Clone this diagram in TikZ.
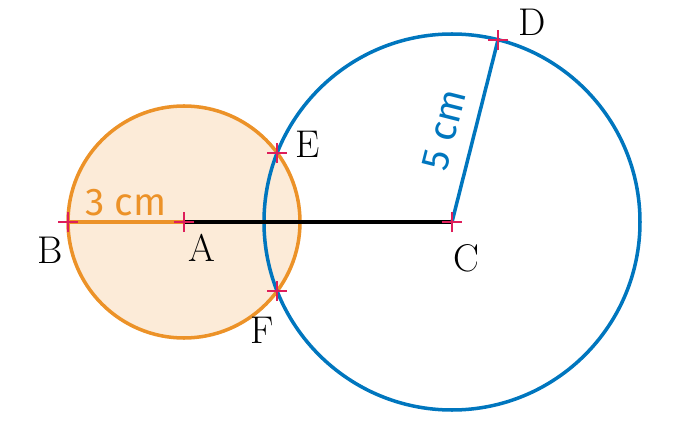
\documentclass[tikz,border=0pt]{standalone}
\usepackage{fontspec}
\newfontfamily\labelfont{Fira Sans}
\usepackage{tikz}
\definecolor{orng}{RGB}{236,146,40}
\definecolor{blu}{RGB}{0,118,190}
\definecolor{tick}{RGB}{222,30,90}
\begin{document}
\begin{tikzpicture}[x=0.02cm,y=-0.02cm]
    % styles
    \tikzset{
        pt/.style={font=\fontsize{22}{26}\selectfont},
        lenlabel/.style={font=\labelfont\fontsize{22}{26}\selectfont, inner sep=1pt},
        cross/.style={draw=tick, line width=1.4pt},
    }
    \useasboundingbox (0,0) rectangle (674,426);

    % points
    \coordinate (A) at (184,222);
    \coordinate (B) at (68,222);
    \coordinate (C) at (452,222);
    \coordinate (D) at (498,40);
    \coordinate (E) at (277,153);
    \coordinate (F) at (277,291);

    % circles
    \fill[orng!18] (A) circle (116);
    \draw[orng, line width=2pt] (A) circle (116);
    \draw[blu, line width=2pt] (C) circle (188);

    % segments
    \draw[orng, line width=2pt] (B) -- (A);
    \draw[black, line width=2pt] (A) -- (C);
    \draw[blu, line width=2pt] (C) -- (D);

    % tick marks
    \foreach \p in {A,B,C,D,E,F} {
        \draw[cross] ([xshift=-10*0.02cm]\p) -- ([xshift=10*0.02cm]\p);
        \draw[cross] ([yshift=-10*0.02cm]\p) -- ([yshift=10*0.02cm]\p);
    }

    % labels
    \node[pt] (lA) at (202,248) {A};
    \node[pt] (lB) at (50,250) {B};
    \node[pt] (lC) at (466,258) {C};
    \node[pt] (lD) at (532,22) {D};
    \node[pt] (lE) at (308,144) {E};
    \node[pt] (lF) at (262,330) {F};
    \node[lenlabel, text=orng] (l3) at (126,203) {3 cm};
    \node[lenlabel, text=blu, rotate=75.8] (l5) at (444,130) {5 cm};
\end{tikzpicture}
\end{document}
